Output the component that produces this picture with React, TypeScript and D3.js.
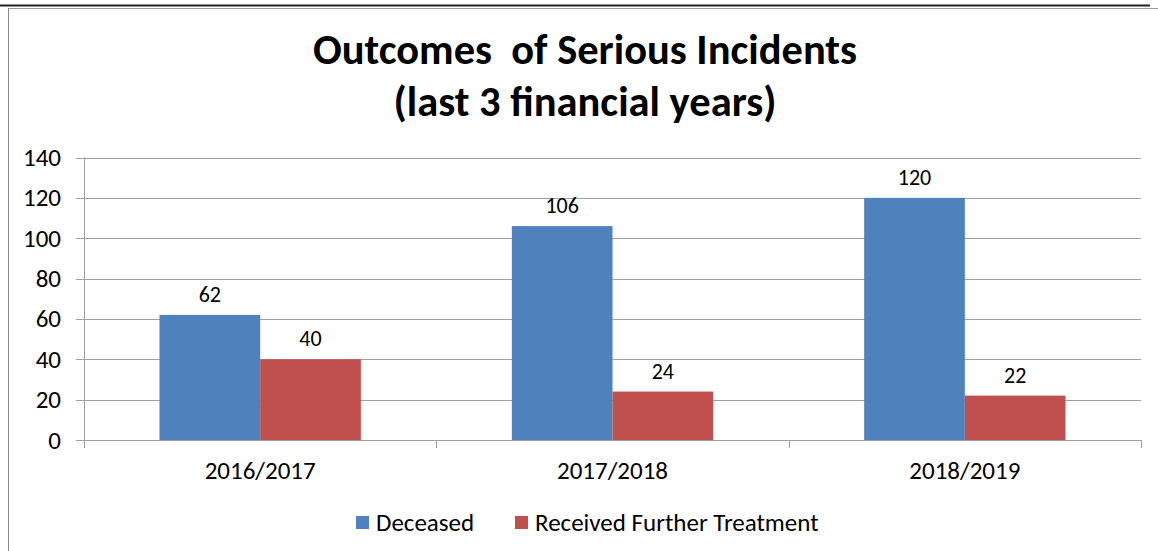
import React from "react";
import * as d3 from "d3";

const categories = ["2016/2017", "2017/2018", "2018/2019"];
const seriesNames = ["Deceased", "Received Further Treatment"];
const deceased = [62, 106, 120];
const furtherTreatment = [40, 24, 22];
const yTicks = [0, 20, 40, 60, 80, 100, 120, 140];
const colors = ["#4F81BD", "#C0504D"];

const W = 1158;
const H = 551;
const plot = { left: 84, right: 1141, top: 157.5, bottom: 440 };
const font = "Carlito, 'Open Sans', 'Noto Sans', sans-serif";

export default function App() {
  const x0 = d3.scaleBand<string>().domain(categories).range([plot.left, plot.right]).paddingInner(0).paddingOuter(0);
  const groupW = x0.bandwidth();
  const barW = groupW / 3.5;
  const x1 = d3.scaleBand<string>().domain(seriesNames).range([0, barW * 2]);
  const y = d3.scaleLinear().domain([0, 140]).range([plot.bottom, plot.top]);
  const series = [deceased, furtherTreatment];

  return (
    <svg width={W} height={H} style={{ position: "absolute", left: 0, top: 0, background: "#fff" }} fontFamily={font}>
      <rect x={0} y={0} width={W} height={H} fill="#fff" />
      {/* page border lines */}
      <line x1={0} x2={1150} y1={5.5} y2={5.5} stroke="#222" strokeWidth={2} />
      <line x1={8} x2={1158} y1={8.5} y2={8.5} stroke="#999" strokeWidth={1} />
      <line x1={8.5} x2={8.5} y1={8} y2={H} stroke="#888" strokeWidth={1} />

      {/* title */}
      <text x={585} y={64} textAnchor="middle" fontSize={42.5} fontWeight="bold" fill="#000" style={{ whiteSpace: "pre" }}>
        {"Outcomes  of Serious Incidents"}
      </text>
      <text x={585} y={116} textAnchor="middle" fontSize={42.5} fontWeight="bold" fill="#000">
        (last 3 financial years)
      </text>

      {/* gridlines */}
      {yTicks.map((t) => (
        <g key={t}>
          <line x1={plot.left - 8} x2={plot.right} y1={Math.round(y(t)) + 0.5} y2={Math.round(y(t)) + 0.5} stroke="#A0A0A0" strokeWidth={1} />
          <text x={61} y={y(t) + 8.5} textAnchor="end" fontSize={25} fill="#000">
            {t}
          </text>
        </g>
      ))}
      {/* y axis */}
      <line x1={plot.left + 0.5} x2={plot.left + 0.5} y1={plot.top} y2={plot.bottom} stroke="#A0A0A0" />

      {/* bars */}
      {categories.map((c, ci) => {
        const gx = (x0(c) as number) + (groupW - barW * 2) / 2;
        return (
          <g key={c}>
            {seriesNames.map((s, si) => {
              const v = series[si][ci];
              const bx = gx + (x1(s) as number);
              return (
                <g key={s}>
                  <rect x={bx} y={y(v)} width={barW} height={plot.bottom - y(v)} fill={colors[si]} />
                  <text x={bx + barW / 2} y={y(v) - 13} textAnchor="middle" fontSize={22} fill="#000">
                    {v}
                  </text>
                </g>
              );
            })}
            <text x={(x0(c) as number) + groupW / 2} y={479} textAnchor="middle" fontSize={25} fill="#000">
              {c}
            </text>
          </g>
        );
      })}

      {/* x axis */}
      <line x1={plot.left} x2={plot.right} y1={plot.bottom + 0.5} y2={plot.bottom + 0.5} stroke="#A0A0A0" />
      {[...categories.map((c) => x0(c) as number), plot.right].map((tx, i) => (
        <line key={i} x1={Math.round(tx) + 0.5} x2={Math.round(tx) + 0.5} y1={plot.bottom} y2={plot.bottom + 8} stroke="#A0A0A0" />
      ))}

      {/* legend */}
      {seriesNames.map((s, i) => {
        const lx = i === 0 ? 356 : 515;
        return (
          <g key={s}>
            <rect x={lx} y={516} width={13} height={13} fill={colors[i]} />
            <text x={lx + 20} y={531} fontSize={25} fill="#000">
              {s}
            </text>
          </g>
        );
      })}
    </svg>
  );
}
